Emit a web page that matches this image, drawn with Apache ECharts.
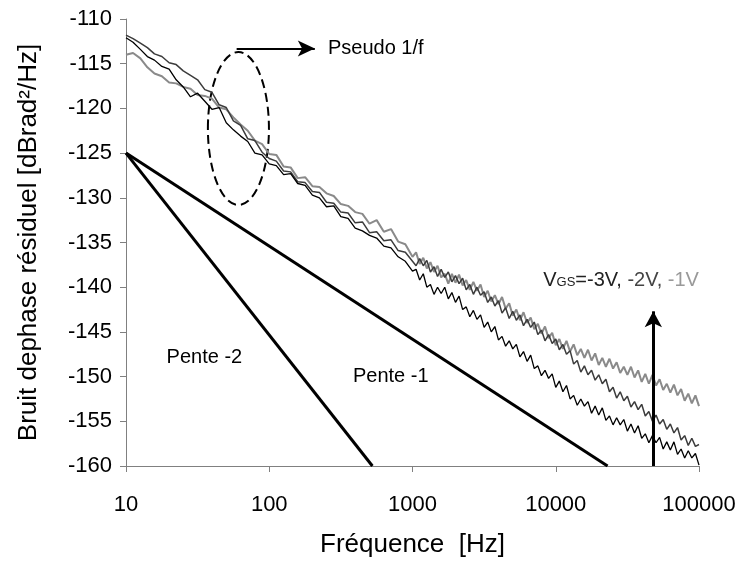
<!DOCTYPE html>
<html>
<head>
<meta charset="utf-8">
<script src="https://cdn.jsdelivr.net/npm/echarts@6/dist/echarts.min.js"></script>
<style>
html, body { margin: 0; padding: 0; background: #fff; }
#main { width: 745px; height: 563px; }
</style>
</head>
<body>
<div id="main"></div>
<script>
const FONT = "'Liberation Sans', Arial, sans-serif";

// frequencies (Hz) shared by the three measured curves
var freq = [
    10, 11.2, 12.6, 14.1, 15.8, 17.8, 20, 22.4, 25.1, 28.2,
    31.6, 35.5, 39.8, 44.7, 50.1, 56.2, 63.1, 70.8, 79.4, 89.1,
    100, 112, 126, 141, 158, 178, 200, 224, 251, 282,
    316, 355, 398, 447, 501, 562, 631, 708, 794, 891, 1000,
    1059, 1122, 1189, 1259, 1334, 1413, 1496, 1585, 1679, 1778,
    1884, 1995, 2113, 2239, 2371, 2512, 2661, 2818, 2985, 3162,
    3350, 3548, 3758, 3981, 4217, 4467, 4732, 5012, 5309, 5623,
    5957, 6310, 6683, 7079, 7499, 7943, 8414, 8913, 9441, 10000,
    10593, 11220, 11885, 12589, 13335, 14125, 14962, 15849, 16788, 17783,
    18836, 19953, 21135, 22387, 23714, 25119, 26607, 28184, 29854, 31623,
    33497, 35481, 37584, 39811, 42170, 44668, 47315, 50119, 53088, 56234,
    59566, 63096, 66834, 70795, 74989, 79433, 84140, 89125, 94406, 100000
];

// VGS = -1V (light gray)
var noise1V = [
    -114.0, -113.8, -114.4, -115.4, -116.1, -116.4, -117.1, -117.2, -117.6, -117.8,
    -118.5, -118.6, -118.9, -119.9, -120.1, -121.0, -121.8, -122.5, -123.6, -124.0,
    -125.1, -125.2, -126.5, -126.6, -127.8, -127.7, -128.7, -128.8, -129.5, -129.8,
    -130.7, -130.9, -131.6, -131.8, -132.9, -132.5, -133.8, -133.5, -134.9, -135.2, -136.6,
    -136.1, -137.4, -136.7, -137.9, -137.2, -138.3, -137.6, -138.9, -138.5, -139.6,
    -138.5, -139.5, -138.6, -139.8, -139.2, -140.3, -139.4, -140.4, -139.7, -141.1,
    -140.4, -141.6, -140.9, -141.9, -141.1, -142.4, -141.8, -143.2, -142.5, -143.7,
    -142.8, -144.0, -143.4, -144.7, -144.1, -145.2, -144.4, -145.7, -145.1, -146.5,
    -145.8, -146.9, -146.0, -147.2, -146.4, -147.6, -146.9, -147.9, -147.0, -148.2,
    -147.4, -148.7, -147.9, -148.9, -148.0, -149.1, -148.4, -149.6, -148.9, -149.8,
    -148.9, -150.1, -149.3, -150.6, -149.7, -150.8, -149.8, -151.0, -150.3, -151.5,
    -150.8, -151.8, -150.9, -152.1, -151.4, -152.7, -151.9, -153.0, -152.1, -153.3
];

// VGS = -2V (dark gray)
var noise2V = [
    -111.8, -112.2, -112.7, -113.2, -113.9, -114.2, -114.9, -115.1, -115.8, -116.3,
    -116.8, -117.9, -118.2, -119.6, -119.9, -121.4, -121.9, -123.4, -123.6, -124.9,
    -125.6, -125.9, -127.0, -127.1, -128.2, -128.3, -129.3, -129.4, -130.5, -130.6,
    -131.6, -131.7, -132.8, -132.7, -133.9, -133.8, -134.8, -134.7, -135.9, -136.1, -137.1,
    -137.6, -136.8, -137.6, -137.0, -138.3, -137.7, -138.8, -138.0, -138.9, -138.3,
    -139.4, -138.7, -139.6, -139.0, -140.3, -139.7, -140.8, -140.0, -140.9, -140.5,
    -141.7, -141.1, -142.1, -141.5, -142.9, -142.3, -143.5, -142.7, -143.7, -143.1,
    -144.3, -143.6, -144.5, -143.9, -145.3, -144.8, -146.0, -145.3, -146.3, -145.8,
    -147.0, -146.4, -147.5, -147.1, -148.6, -148.2, -149.5, -148.8, -149.8, -149.3,
    -150.4, -149.8, -150.8, -150.3, -151.7, -151.2, -152.4, -151.7, -152.7, -152.2,
    -153.4, -152.8, -153.7, -153.1, -154.4, -153.9, -155.0, -154.3, -155.3, -154.8,
    -155.9, -155.3, -156.3, -155.7, -157.1, -156.6, -157.7, -156.9, -157.8, -157.6
];

// VGS = -3V (black)
var noise3V = [
    -112.1, -112.6, -113.4, -114.2, -114.6, -115.3, -115.6, -116.8, -117.6, -118.7,
    -118.3, -119.2, -120.1, -119.9, -121.6, -122.4, -123.1, -123.7, -125.0, -125.2,
    -126.2, -126.4, -127.4, -127.3, -128.4, -128.6, -129.7, -130.0, -131.0, -130.9,
    -132.1, -132.3, -133.4, -133.7, -134.2, -134.5, -135.4, -135.6, -136.6, -137.1, -138.2,
    -138.0, -139.2, -138.5, -140.0, -139.7, -140.8, -140.0, -140.7, -140.0, -141.3,
    -140.6, -141.7, -141.0, -142.5, -142.2, -143.3, -142.6, -143.6, -143.1, -144.5,
    -143.9, -145.0, -144.4, -145.9, -145.5, -146.6, -146.0, -146.9, -146.4, -147.8,
    -147.2, -148.3, -147.6, -149.1, -148.8, -149.9, -149.3, -150.2, -149.7, -151.2,
    -150.5, -151.7, -151.0, -152.5, -152.1, -153.2, -152.5, -153.3, -152.8, -154.1,
    -153.3, -154.3, -153.5, -154.9, -154.4, -155.4, -154.6, -155.4, -154.8, -156.1,
    -155.3, -156.3, -155.5, -156.9, -156.4, -157.4, -156.6, -157.4, -156.8, -158.1,
    -157.3, -158.2, -157.3, -158.7, -158.1, -159.1, -158.3, -159.1, -158.6, -159.9
];

// reference slopes [Hz, dB]
var pente1 = [[10, -125], [23000, -160]];
var pente2 = [[10, -125], [525, -160]];

var yTicks = { min: -160, max: -110, step: 5 };
var xRange = [10, 100000];

var dom = document.getElementById('main');
var myChart = echarts.init(dom);

function pairs(xs, ys) {
    return xs.map(function (x, i) { return [x, ys[i]]; });
}

function curve(name, color, width, values) {
    return {
        name: name,
        type: 'line',
        symbol: 'none',
        silent: true,
        data: pairs(freq, values),
        lineStyle: { color: color, width: width },
        itemStyle: { color: color }
    };
}

let option = {
    animation: false,
    backgroundColor: '#fff',
    grid: { left: 126, right: 46, top: 19, bottom: 96 },
    xAxis: {
        type: 'log',
        logBase: 10,
        min: xRange[0],
        max: xRange[1],
        name: 'Fréquence  [Hz]',
        nameLocation: 'middle',
        nameGap: 66,
        nameTextStyle: { fontFamily: FONT, fontSize: 26, color: '#000' },
        axisLine: { lineStyle: { color: '#808080', width: 1 } },
        axisTick: { show: true, inside: false, length: 6, lineStyle: { color: '#808080' } },
        minorTick: { show: false },
        splitLine: { show: false },
        axisLabel: {
            margin: 28,
            fontFamily: FONT,
            fontSize: 22,
            color: '#000',
            formatter: function (v) { return String(Math.round(v)); }
        }
    },
    yAxis: {
        type: 'value',
        min: yTicks.min,
        max: yTicks.max,
        interval: yTicks.step,
        name: 'Bruit dephase résiduel [dBrad²/Hz]',
        nameLocation: 'middle',
        nameGap: 84,
        nameTextStyle: { fontFamily: FONT, fontSize: 26, color: '#000' },
        axisLine: { show: true, lineStyle: { color: '#808080', width: 1 } },
        axisTick: { show: true, inside: false, length: 6, lineStyle: { color: '#808080' } },
        splitLine: { show: false },
        axisLabel: { margin: 14, fontFamily: FONT, fontSize: 22, color: '#000' }
    },
    series: [
        curve('-1V', '#8a8a8a', 2, noise1V),
        curve('-2V', '#3c3c3c', 1.5, noise2V),
        curve('-3V', '#000', 1.3, noise3V),
        {
            name: 'Pente -1',
            type: 'line',
            symbol: 'none',
            silent: true,
            data: pente1,
            lineStyle: { color: '#000', width: 3 }
        },
        {
            name: 'Pente -2',
            type: 'line',
            symbol: 'none',
            silent: true,
            data: pente2,
            lineStyle: { color: '#000', width: 3 },
            markLine: {
                silent: true,
                symbol: ['none', 'arrow'],
                label: { show: false },
                emphasis: { disabled: true },
                data: [
                    [
                        { coord: [48000, -160], lineStyle: { color: '#000', width: 3, type: 'solid' } },
                        { coord: [48000, -142.7], symbolSize: [13, 16] }
                    ],
                    [
                        { coord: [59.2, -113.3], lineStyle: { color: '#000', width: 2, type: 'solid' } },
                        { coord: [208, -113.3], symbolSize: [12, 17] }
                    ]
                ]
            }
        }
    ]
};

myChart.setOption(option);

// annotations anchored in data units
var ellipseBox = { x: [37.3, 99.5], y: [-130.8, -113.7] };
var notes = [
    { at: [19.2, -147.9], text: 'Pente -2' },
    { at: [384, -150.0], text: 'Pente -1' },
    { at: [257, -113.3], text: 'Pseudo 1/f' }
];
var vgsAt = [8170, -139.2];

function px(p) { return myChart.convertToPixel({ gridIndex: 0 }, p); }

var p0 = px([ellipseBox.x[0], ellipseBox.y[1]]);
var p1 = px([ellipseBox.x[1], ellipseBox.y[0]]);
var graphics = [{
    type: 'ellipse',
    silent: true,
    shape: {
        cx: (p0[0] + p1[0]) / 2,
        cy: (p0[1] + p1[1]) / 2,
        rx: Math.abs(p1[0] - p0[0]) / 2,
        ry: Math.abs(p1[1] - p0[1]) / 2
    },
    style: { fill: 'none', stroke: '#000', lineWidth: 2, lineDash: [9, 5] }
}];

notes.forEach(function (n) {
    var p = px(n.at);
    graphics.push({
        type: 'text',
        x: p[0],
        y: p[1],
        silent: true,
        style: {
            text: n.text,
            font: '20px ' + FONT,
            fill: '#000',
            verticalAlign: 'middle',
            align: 'left'
        }
    });
});

var pv = px(vgsAt);
graphics.push({
    type: 'text',
    x: pv[0],
    y: pv[1],
    silent: true,
    style: {
        text: '{v|V}{s|GS}{a|=-3V, }{b|-2V, }{c|-1V}',
        verticalAlign: 'middle',
        align: 'left',
        rich: {
            v: { fontFamily: FONT, fontSize: 20, fill: '#222', verticalAlign: 'bottom' },
            s: { fontFamily: FONT, fontSize: 13, fill: '#222', verticalAlign: 'bottom', padding: [0, 0, 1, 0] },
            a: { fontFamily: FONT, fontSize: 20, fill: '#222', verticalAlign: 'bottom' },
            b: { fontFamily: FONT, fontSize: 20, fill: '#444', verticalAlign: 'bottom' },
            c: { fontFamily: FONT, fontSize: 20, fill: '#999', verticalAlign: 'bottom' }
        }
    }
});

myChart.setOption({ graphic: graphics });
</script>
</body>
</html>
